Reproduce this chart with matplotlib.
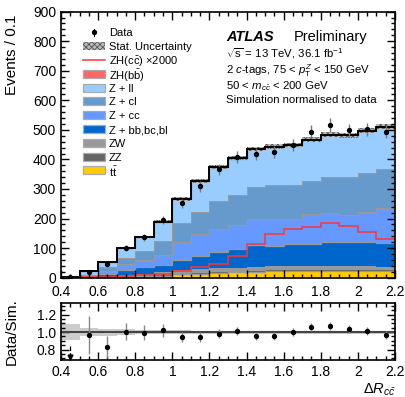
import numpy as np
import matplotlib
matplotlib.use('Agg')
import matplotlib.pyplot as plt
from matplotlib.ticker import MultipleLocator, FormatStrFormatter
from matplotlib.patches import Rectangle

plt.rcParams['font.family'] = ['Liberation Sans', 'DejaVu Sans']
plt.rcParams['mathtext.fontset'] = 'custom'
plt.rcParams['mathtext.rm'] = 'Liberation Sans'
plt.rcParams['mathtext.it'] = 'Liberation Sans:italic'
plt.rcParams['mathtext.bf'] = 'Liberation Sans:bold'
plt.rcParams['hatch.linewidth'] = 0.6

# binning in delta R
edges = np.round(np.arange(0.4, 2.2001, 0.1), 2)
centers = 0.5 * (edges[:-1] + edges[1:])

# stacked backgrounds (bottom -> top), events per bin
ttbar = [0, 0.5, 1, 3, 5, 7, 11, 14, 17, 19, 20, 21, 22, 22, 23, 23, 23, 23]
zz = [0, 0.5, 1, 2, 2.5, 4, 5, 5, 6, 5, 6, 7, 6, 6, 6, 5, 5, 5]
zw = [0, 1, 2, 3, 4.5, 7, 10, 10, 11, 10, 11, 12, 12, 11, 10, 10, 10, 9]
z_bb = [0.5, 2, 8, 18, 23, 24, 34, 45, 54, 62, 74, 67, 74, 75, 81, 83, 83, 82]
z_cc = [0.5, 2, 11, 19, 25, 35, 60, 73, 77, 82, 87, 91, 83, 101, 98, 91, 101, 116]
z_cl = [0.5, 3, 12, 23, 31, 47, 65, 74, 93, 103, 108, 114, 116, 113, 124, 130, 131, 132]
z_ll = [1.5, 12, 19, 31, 47, 65, 80, 105, 115, 122, 128, 130, 134, 137, 140, 138, 143, 143]
zh_bb = [0, 0.1, 0.2, 0.4, 0.6, 0.8, 1.0, 1.2, 1.3, 1.4, 1.5, 1.5, 1.5, 1.5, 1.4, 1.4, 1.3, 1.2]

# signal ZH(cc) scaled by 2000
zh_cc_x2000 = [0, 1, 3, 5, 9, 14, 24, 35, 47, 75, 113, 147, 164, 172, 184, 174, 156, 130]

# observed data
data = [1, 20.4, 45, 100, 137.5, 194, 251, 309, 367, 409, 417, 425, 449, 494, 516, 498, 502, 494]

# relative stat. uncertainty of the simulation
stat_rel = [0.09, 0.05, 0.04, 0.03, 0.025, 0.022, 0.02, 0.018, 0.018, 0.017,
            0.017, 0.017, 0.017, 0.017, 0.017, 0.017, 0.017, 0.017]

components = [
    (ttbar, '#ffcc00', r'$\mathrm{t\bar{t}}$'),
    (zz, '#666666', 'ZZ'),
    (zw, '#999999', 'ZW'),
    (z_bb, '#0066cc', 'Z + bb,bc,bl'),
    (z_cc, '#6699ff', 'Z + cc'),
    (z_cl, '#6699cc', 'Z + cl'),
    (z_ll, '#99ccff', 'Z + ll'),
    (zh_bb, '#ff6666', r'ZH($\mathrm{b\bar{b}}$)'),
]

fig = plt.figure(figsize=(4.05, 3.97), dpi=100)
ax = fig.add_axes([0.1506, 0.3005, 0.8247, 0.6703])
rax = fig.add_axes([0.1506, 0.0932, 0.8247, 0.1428])

# stack
bottom = np.zeros(len(centers))
for vals, col, lab in components:
    top = bottom + np.array(vals, dtype=float)
    ax.stairs(top, edges, baseline=bottom, fill=True, color=col, lw=0)
    ax.stairs(top, edges, baseline=None, color='#999999', lw=0.9)
    bottom = top
total = bottom

# stat uncertainty band
lo = total * (1 - np.array(stat_rel))
hi = total * (1 + np.array(stat_rel))
ax.fill_between(edges, np.append(lo, lo[-1]), np.append(hi, hi[-1]), step='post',
                facecolor='#bbbbbb', edgecolor='#555555', hatch='xxxxxx', lw=0)
ax.stairs(total, edges, baseline=None, color='black', lw=1.4)

# signal line
ax.stairs(zh_cc_x2000, edges, baseline=None, color='#ff3333', lw=1.1)

# data
data = np.array(data)
ax.errorbar(centers, data, yerr=np.sqrt(data), fmt='o', color='black', ms=2.8,
            ecolor='#777777', elinewidth=1.0, capsize=0)

ax.set_xlim(0.4, 2.2)
ax.set_ylim(0, 900)
ax.set_ylabel('Events / 0.1', fontsize=11, loc='top')
ax.yaxis.set_label_coords(-0.125, 0.99)

for a in (ax, rax):
    a.tick_params(which='both', direction='in', top=True, right=True, labelsize=10)
    a.tick_params(which='major', length=6, width=1)
    a.tick_params(which='minor', length=3, width=1)
    a.xaxis.set_major_locator(MultipleLocator(0.2))
    a.xaxis.set_minor_locator(MultipleLocator(0.05))
    a.xaxis.set_major_formatter(FormatStrFormatter('%g'))
    for s in a.spines.values():
        s.set_linewidth(1.2)
ax.yaxis.set_major_locator(MultipleLocator(100))
ax.yaxis.set_minor_locator(MultipleLocator(20))
ax.tick_params(axis='x', pad=5)

# legend, drawn row by row so the spacing stays even
leg_x0, leg_w, leg_h = 0.066, 0.066, 0.030
leg_y0, leg_dy = 0.922, 0.0519
leg_fs = 8
rows = [('data', None, 'Data'),
        ('hatch', None, 'Stat. Uncertainty'),
        ('line', '#ff3333', r'ZH($\mathrm{c\bar{c}}$) $\times$2000')]
for vals, col, lab in reversed(components):
    rows.append(('box', col, lab))
for i, (kind, col, lab) in enumerate(rows):
    yc = leg_y0 - i * leg_dy
    xc = leg_x0 + leg_w / 2
    if kind == 'data':
        ax.plot([xc], [yc], 'o', color='black', ms=2.8, transform=ax.transAxes)
        ax.plot([xc, xc], [yc - 0.012, yc + 0.012], color='black', lw=0.8,
                transform=ax.transAxes)
    elif kind == 'hatch':
        ax.add_patch(Rectangle((leg_x0, yc - leg_h / 2), leg_w, leg_h, transform=ax.transAxes,
                               facecolor='#bbbbbb', edgecolor='#555555', hatch='xxxxxx', lw=0))
    elif kind == 'line':
        ax.plot([leg_x0, leg_x0 + leg_w], [yc, yc], color=col, lw=1.1, transform=ax.transAxes)
    else:
        ax.add_patch(Rectangle((leg_x0, yc - leg_h / 2), leg_w, leg_h, transform=ax.transAxes,
                               facecolor=col, edgecolor='#aaaaaa', lw=0.9))
    ax.text(leg_x0 + leg_w + 0.012, yc, lab, transform=ax.transAxes, fontsize=leg_fs,
            va='center_baseline')

# labels
ax.text(0.494, 0.888, 'ATLAS', transform=ax.transAxes, fontsize=10.5,
        fontweight='bold', style='italic')
ax.text(0.698, 0.888, 'Preliminary', transform=ax.transAxes, fontsize=10.5)
info = [r'$\sqrt{\mathrm{s}}$ = 13 TeV, 36.1 fb$^{-1}$',
        r'2 $c$-tags, 75 < $p_{\mathrm{T}}^{Z}$ < 150 GeV',
        r'50 < $m_{c\bar{c}}$ < 200 GeV',
        'Simulation normalised to data']
info_y = [0.847, 0.787, 0.727, 0.670]
for line, yy in zip(info, info_y):
    ax.text(0.494, yy, line, transform=ax.transAxes, fontsize=8.2,
            va='center_baseline')

# ratio panel
ratio = data / total
ratio_err = np.sqrt(data) / total
rlo, rhi = 0.68, 1.33
rel = np.array(stat_rel)
rax.fill_between(edges, np.append(1 - rel, 1 - rel[-1]), np.append(1 + rel, 1 + rel[-1]),
                 step='post', color='#cccccc', lw=0)
rax.axhline(1.0, color='#444444', lw=1.5)
inside = ratio >= rlo
rax.errorbar(centers[inside], ratio[inside], yerr=ratio_err[inside], fmt='o',
             color='black', ms=2.8, ecolor='#888888', elinewidth=1.0, capsize=0)
for xc in centers[~inside]:
    rax.plot([xc, xc], [rlo + 0.16, rlo + 0.035], ls='--', color='black', lw=0.9)
    rax.plot([xc], [rlo + 0.03], marker='v', color='black', ms=3.5)
rax.set_xlim(0.4, 2.2)
rax.set_ylim(rlo, rhi)
rax.yaxis.set_major_locator(MultipleLocator(0.2))
rax.yaxis.set_minor_locator(MultipleLocator(0.05))
rax.yaxis.set_major_formatter(FormatStrFormatter('%.1f'))
rax.set_ylabel('Data/Sim.', fontsize=11)
rax.yaxis.set_label_coords(-0.125, 0.5)
rax.set_xlabel(r'$\Delta R_{c\bar{c}}$', fontsize=10.5, loc='right', labelpad=2)

fig.savefig('out.png', dpi=100)
